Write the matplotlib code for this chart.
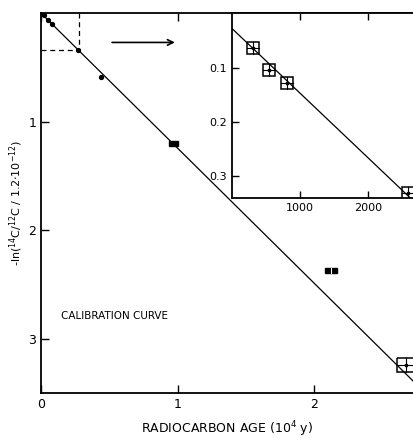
import matplotlib.pyplot as plt
from matplotlib.patches import Rectangle

# main panel: age in 10^4 y, -ln ratio
main_age = [0.02, 0.05, 0.08, 0.27, 0.44, 0.97, 2.12, 2.67]
main_val = [0.02, 0.06, 0.10, 0.34, 0.59, 1.20, 2.37, 3.24]
main_xerr = [0, 0, 0, 0, 0, 0.03, 0.045, 0.065]
main_yerr = [0, 0, 0, 0, 0, 0.022, 0.025, 0.065]
slope_main = 1.245

# inset: age in years
ins_age = [309, 544, 809, 2590]
ins_val = [0.065, 0.105, 0.129, 0.331]
ins_xerr = [85, 85, 85, 85]
ins_yerr = [0.011, 0.011, 0.011, 0.011]
ins_intercept = 0.028
ins_slope = 1.19e-4

fig = plt.figure(figsize=(4.14, 4.38), dpi=100)

ax = fig.add_axes([0.099, 0.103, 0.901, 0.867])
ax.set_xlim(0, 2.73)
ax.set_ylim(3.5, 0)
ax.plot([0, 2.73], [0, slope_main * 2.73], color='black', lw=0.9)

# small points as dots, the rest as error boxes
for x, y, xe, ye in zip(main_age, main_val, main_xerr, main_yerr):
    if xe == 0:
        ax.plot(x, y, 'o', color='black', ms=2.8)
    elif xe < 0.04:
        ax.add_patch(Rectangle((x - xe, y - ye), 2 * xe, 2 * ye,
                               facecolor='black', edgecolor='black', lw=1))
    elif xe < 0.05:
        ax.add_patch(Rectangle((x - xe, y - ye), 2 * xe, 2 * ye,
                               facecolor='black', edgecolor='black', lw=1))
        ax.plot([x, x], [y - ye, y + ye], color='white', lw=0.8)
    else:
        ax.add_patch(Rectangle((x - xe, y - ye), 2 * xe, 2 * ye, fill=False,
                               edgecolor='black', lw=1.1))
        ax.plot([x - xe, x + xe], [y, y], color='black', lw=0.8)
        ax.plot([x, x], [y - ye, y + ye], color='black', lw=0.8)
        ax.plot(x, y, 's', color='black', ms=2)

# zoom region marker and arrow
ax.plot([0.28, 0.28], [0, 0.34], 'k--', lw=0.9, dashes=(4, 3))
ax.plot([0, 0.28], [0.34, 0.34], 'k--', lw=0.9, dashes=(4, 3))
ax.annotate('', xy=(1.0, 0.27), xytext=(0.5, 0.27),
            arrowprops=dict(arrowstyle='->', color='black', lw=1.2))

ax.text(0.15, 2.82, 'CALIBRATION CURVE', fontsize=7.5)

ax.set_xticks([0, 1, 2])
ax.set_xticklabels(['0', '1', '2'])
ax.set_yticks([1, 2, 3])
ax.set_yticklabels(['1', '2', '3'])
ax.tick_params(direction='in', length=6, width=1, labelsize=9, top=True)
ax.spines['right'].set_visible(False)
for s in ['left', 'bottom', 'top']:
    ax.spines[s].set_linewidth(1.3)
ax.set_xlabel('RADIOCARBON AGE (10$^4$ y)', fontsize=9, labelpad=6)
ax.set_ylabel(r'-ln($^{14}$C/$^{12}$C / 1.2$\cdot$10$^{-12}$)', fontsize=8, labelpad=2)

# inset
ins = fig.add_axes([0.560, 0.548, 0.44, 0.422])
ins.set_xlim(0, 2676)
ins.set_ylim(0.34, 0)
ins.plot([0, 2676], [ins_intercept, ins_intercept + ins_slope * 2676], color='black', lw=0.9)
for x, y, xe, ye in zip(ins_age, ins_val, ins_xerr, ins_yerr):
    ins.add_patch(Rectangle((x - xe, y - ye), 2 * xe, 2 * ye, fill=False,
                            edgecolor='black', lw=1.1))
    ins.plot([x - xe, x + xe], [y, y], color='black', lw=0.8)
    ins.plot([x, x], [y - ye, y + ye], color='black', lw=0.8)
    ins.plot(x, y, 's', color='black', ms=1.8)

ins.set_xticks([1000, 2000])
ins.set_xticklabels(['1000', '2000'])
ins.set_yticks([0.1, 0.2, 0.3])
ins.set_yticklabels(['0.1', '0.2', '0.3'])
ins.tick_params(direction='in', length=5, width=1, labelsize=8, top=True)
ins.spines['right'].set_visible(False)
for s in ['left', 'bottom', 'top']:
    ins.spines[s].set_linewidth(1.3)

fig.savefig('out.png', dpi=100)
